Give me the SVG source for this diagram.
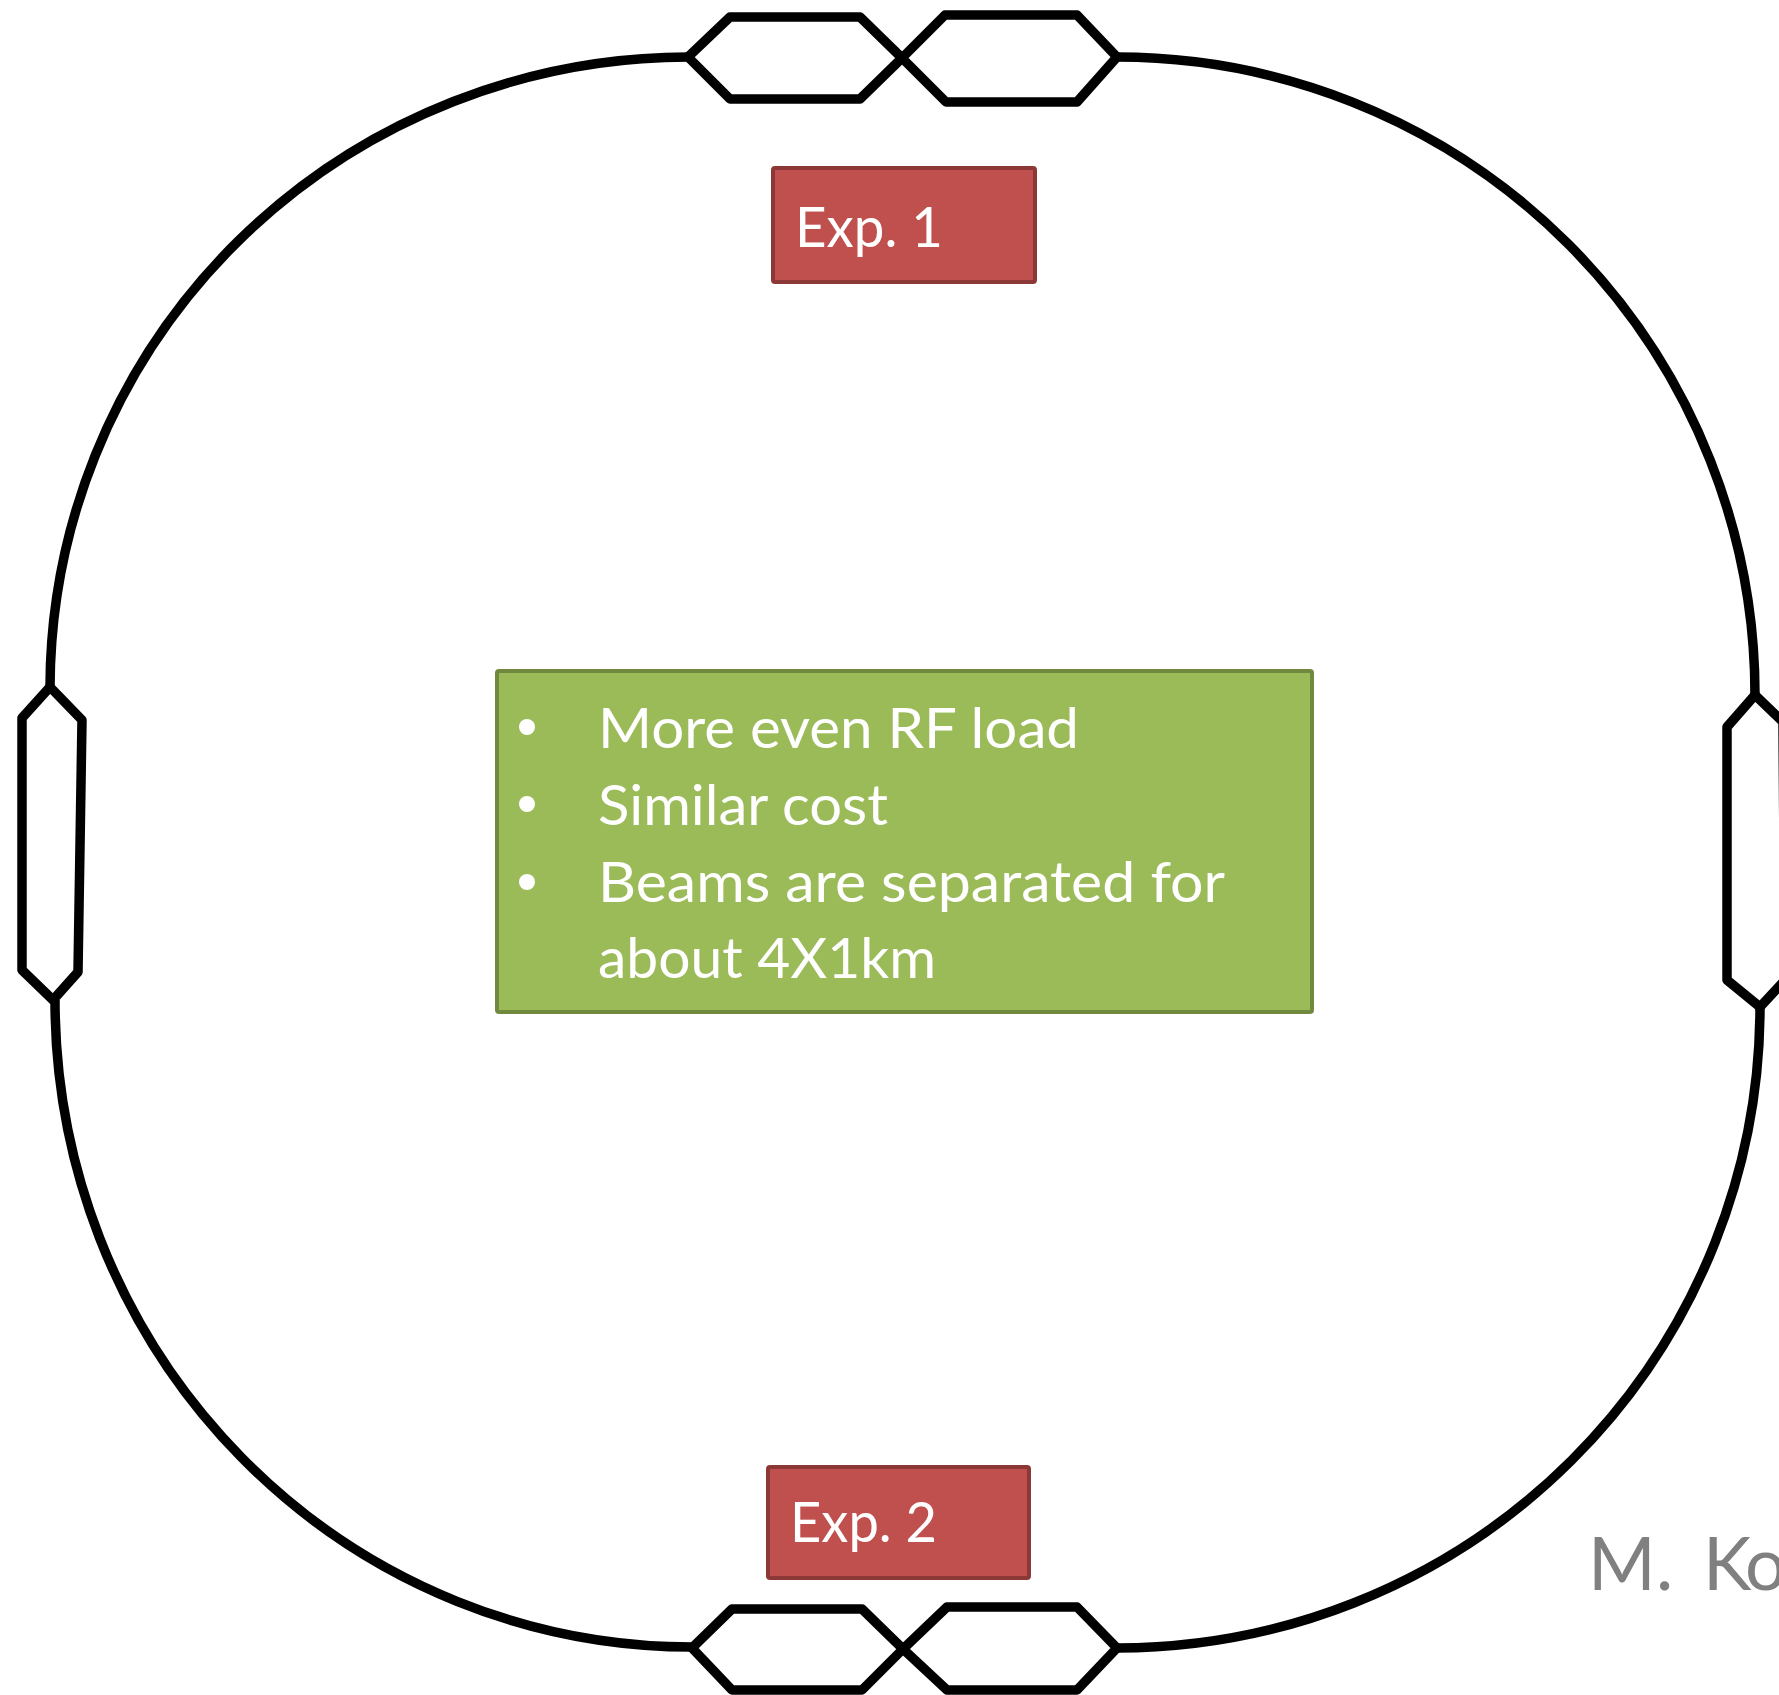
<svg xmlns="http://www.w3.org/2000/svg" width="1779" height="1695" viewBox="0 0 1779 1695">
<style>
.ring{fill:none;stroke:#000;stroke-width:9.5;stroke-linejoin:round}
.hex{fill:none;stroke:#000;stroke-width:9.5;stroke-linejoin:round}
.exp{fill:#C0504D;stroke:#8C3836;stroke-width:4}
.note{fill:#9BBB59;stroke:#71893F;stroke-width:4}
.t{font-family:Lato,"Open Sans","Liberation Sans",sans-serif;fill:#fff}
.author{font-family:Lato,"Open Sans","Liberation Sans",sans-serif;fill:#808080}
</style>
<rect width="1779" height="1695" fill="#fff"/>
<g id="connectors">
<path class="ring" d="M688 57 A639 632 0 0 0 50 687"/>
<path class="ring" d="M1117 57 A638 638 0 0 1 1755 695"/>
<path class="ring" d="M55 1000 A637 647 0 0 0 692 1647"/>
<path class="ring" d="M1760 1007 A643 641 0 0 1 1117 1648"/>
</g>
<g id="ip-top-left"><polygon class="hex" points="688,57 730,17 860,17 902,58 860,99 730,99"/></g>
<g id="ip-top-right"><polygon class="hex" points="902,58 945,15 1077,15 1117,57 1077,102 946,102"/></g>
<g id="rf-left"><polygon class="hex" points="50,687 22,718 22,970 53,1000 78,972 82,720"/></g>
<g id="rf-right"><polygon class="hex" points="1755,695 1727,727 1727,980 1760,1007 1785,980 1783,722"/></g>
<g id="ip-bottom-left"><polygon class="hex" points="692,1648 732,1609 862,1609 903,1649 862,1690 732,1690"/></g>
<g id="ip-bottom-right"><polygon class="hex" points="903,1649 947,1607 1077,1607 1117,1648 1077,1690 947,1690"/></g>
<g id="exp1">
<rect class="exp" x="773" y="168" width="262" height="114" rx="2"/>
<text class="t" x="795" y="247" font-size="57" textLength="148" lengthAdjust="spacingAndGlyphs">Exp. 1</text>
</g>
<g id="exp2">
<rect class="exp" x="768" y="1467" width="261" height="111" rx="2"/>
<text class="t" x="790" y="1542" font-size="57" textLength="147" lengthAdjust="spacingAndGlyphs">Exp. 2</text>
</g>
<g id="notes">
<rect class="note" x="497" y="671" width="815" height="341" rx="2"/>
<circle cx="527" cy="727" r="8" fill="#fff"/>
<circle cx="527" cy="804" r="8" fill="#fff"/>
<circle cx="527" cy="882" r="8" fill="#fff"/>
<text class="t" x="598" y="748" font-size="57" textLength="481" lengthAdjust="spacingAndGlyphs">More even RF load</text>
<text class="t" x="598" y="825" font-size="57" textLength="290" lengthAdjust="spacingAndGlyphs">Similar cost</text>
<text class="t" x="598" y="902" font-size="57" textLength="627" lengthAdjust="spacingAndGlyphs">Beams are separated for</text>
<text class="t" x="598" y="978" font-size="57" textLength="338" lengthAdjust="spacingAndGlyphs">about 4X1km</text>
</g>
<g id="author">
<text class="author" x="1588 1656 1673 1703 1745" y="1590" font-size="73">M. Ko</text>
</g>
</svg>
